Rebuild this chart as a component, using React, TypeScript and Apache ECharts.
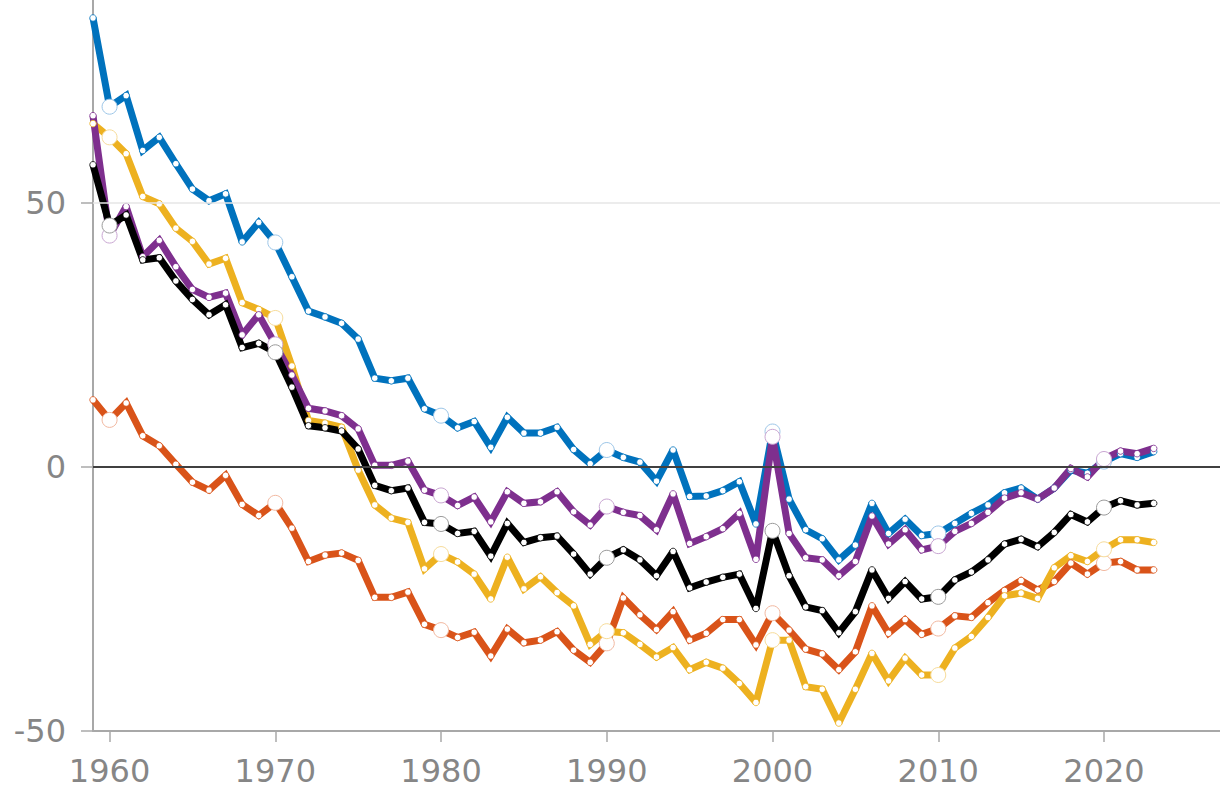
import React, { useEffect, useRef } from "react";
import * as echarts from "echarts";

const years = [
  1959, 1960, 1961, 1962, 1963, 1964, 1965, 1966, 1967, 1968, 1969,
  1970, 1971, 1972, 1973, 1974, 1975, 1976, 1977, 1978, 1979,
  1980, 1981, 1982, 1983, 1984, 1985, 1986, 1987, 1988, 1989,
  1990, 1991, 1992, 1993, 1994, 1995, 1996, 1997, 1998, 1999,
  2000, 2001, 2002, 2003, 2004, 2005, 2006, 2007, 2008, 2009,
  2010, 2011, 2012, 2013, 2014, 2015, 2016, 2017, 2018, 2019,
  2020, 2021, 2022, 2023,
];

const blueValues = [
  85.0, 68.2, 70.3, 59.9, 62.4, 57.4, 52.6, 50.4, 51.7, 42.6, 46.3,
  42.5, 36.0, 29.5, 28.4, 27.2, 24.2, 16.8, 16.3, 16.8, 11.0,
  9.7, 7.4, 8.6, 3.7, 9.4, 6.4, 6.4, 7.5, 3.3, 0.6,
  3.2, 1.8, 0.9, -2.7, 3.2, -5.6, -5.5, -4.5, -2.8, -10.8,
  6.7, -6.1, -11.9, -13.6, -17.6, -14.8, -6.9, -12.6, -9.9, -13.0,
  -12.6, -10.7, -8.8, -7.2, -4.9, -4.0, -6.1, -4.0, -0.6, -1.2,
  1.0, 2.5, 1.8, 2.9,
];

const purpleValues = [
  66.5, 43.8, 49.3, 39.8, 42.9, 37.9, 33.6, 32.1, 32.9, 25.0, 28.8,
  23.2, 17.4, 11.1, 10.6, 9.7, 7.2, 0.3, 0.3, 1.1, -4.4,
  -5.4, -7.3, -5.7, -10.4, -4.7, -6.9, -6.6, -4.7, -8.5, -11.0,
  -7.5, -8.6, -9.2, -11.9, -5.1, -14.5, -13.2, -11.7, -8.8, -17.5,
  5.7, -12.6, -17.2, -17.6, -20.6, -17.9, -9.3, -14.6, -11.9, -15.7,
  -15.0, -12.2, -10.7, -8.6, -5.9, -4.9, -6.1, -4.0, -0.3, -1.9,
  1.5, 3.0, 2.5, 3.5,
];

const blackValues = [
  57.2, 45.7, 47.7, 39.2, 39.6, 35.2, 31.7, 28.8, 30.7, 22.6, 23.4,
  21.7, 15.1, 7.8, 7.4, 6.8, 3.4, -3.5, -4.5, -4.0, -10.5,
  -10.8, -12.6, -12.2, -16.9, -10.7, -14.3, -13.4, -13.1, -16.5, -20.3,
  -17.2, -15.7, -17.6, -20.6, -16.0, -22.9, -21.8, -20.9, -20.3, -26.8,
  -12.1, -20.6, -26.5, -27.2, -31.4, -27.4, -19.5, -24.9, -21.7, -25.0,
  -24.6, -21.4, -19.9, -17.6, -14.6, -13.7, -15.1, -12.4, -9.0, -10.4,
  -7.7, -6.4, -7.2, -6.9,
];

const yellowValues = [
  65.0, 62.4, 59.3, 51.2, 49.8, 45.2, 42.7, 38.4, 39.5, 31.1, 29.8,
  28.2, 19.1, 8.8, 8.3, 7.5, -0.6, -7.2, -9.7, -10.5, -19.3,
  -16.5, -18.0, -20.3, -25.0, -17.1, -23.1, -20.8, -23.8, -26.3, -33.6,
  -31.1, -31.4, -33.6, -36.0, -34.2, -38.4, -37.0, -38.1, -41.0, -44.6,
  -32.8, -32.8, -41.6, -42.1, -48.5, -42.1, -35.3, -40.5, -36.2, -39.4,
  -39.4, -34.3, -32.1, -28.5, -24.4, -23.9, -24.9, -19.1, -16.8, -17.9,
  -15.6, -13.8, -13.8, -14.3,
];

const redValues = [
  12.7, 8.9, 12.1, 5.9, 4.0, 0.5, -2.9, -4.4, -1.6, -7.1, -9.2,
  -6.8, -11.6, -17.9, -16.7, -16.3, -17.7, -24.7, -24.7, -23.7, -29.8,
  -30.9, -32.3, -31.3, -35.8, -30.7, -33.3, -32.8, -31.2, -34.7, -37.0,
  -33.4, -24.8, -28.0, -30.8, -27.4, -32.8, -31.5, -28.9, -28.9, -33.7,
  -27.7, -30.9, -34.5, -35.4, -38.4, -35.0, -26.3, -31.5, -28.9, -31.7,
  -30.6, -28.2, -28.5, -25.7, -23.4, -21.5, -23.3, -21.7, -18.2, -20.3,
  -18.2, -17.9, -19.5, -19.5,
];

const referenceLines = [0, 50];

const FONT = "'DejaVu Sans', 'Liberation Sans', sans-serif";
const LABEL_COLOR = "#868686";
const AXIS_COLOR = "#a8a8a8";

function makeSeries(
  name: string,
  values: number[],
  color: string,
  ringColor: string,
  extra: any = {}
) {
  return {
    name,
    type: "line",
    clip: false,
    symbol: "circle",
    showSymbol: true,
    lineStyle: { color, width: 7, join: "miter", miterLimit: 2 },
    itemStyle: { color: "#ffffff", borderColor: color, borderWidth: 0.8 },
    emphasis: { disabled: true },
    data: years.map((y, i) => {
      const big = y % 10 === 0;
      return {
        value: [y, values[i]],
        symbolSize: big ? 15 : 6.5,
        itemStyle: {
          color: "#ffffff",
          borderColor: big ? ringColor : color,
          borderWidth: big ? 1 : 0.8,
        },
      };
    }),
    ...extra,
  };
}

export default function App() {
  const ref = useRef<HTMLDivElement>(null);

  useEffect(() => {
    if (!ref.current) return;
    const chart = echarts.init(ref.current, null, { renderer: "svg" });
    chart.setOption({
      animation: false,
      backgroundColor: "#ffffff",
      grid: {
        left: 93,
        right: 0,
        top: 0,
        bottom: 70,
        containLabel: false,
        outerBoundsMode: "none",
      },
      xAxis: {
        type: "value",
        min: 1959,
        max: 2027,
        minInterval: 10,
        maxInterval: 10,
        splitNumber: 6,
        axisLine: {
          show: true,
          onZero: false,
          lineStyle: { color: AXIS_COLOR, width: 2 },
        },
        axisTick: {
          show: true,
          length: 11,
          lineStyle: { color: AXIS_COLOR, width: 1.5 },
        },
        splitLine: { show: false },
        axisLabel: {
          showMinLabel: false,
          showMaxLabel: false,
          margin: 24,
          color: LABEL_COLOR,
          fontFamily: FONT,
          fontSize: 32,
          formatter: (v: number) => String(v),
        },
      },
      yAxis: {
        type: "value",
        min: -50,
        max: 88.4,
        minInterval: 50,
        maxInterval: 50,
        axisLine: {
          show: true,
          onZero: false,
          lineStyle: { color: AXIS_COLOR, width: 2 },
        },
        axisTick: {
          show: true,
          length: 12,
          lineStyle: { color: AXIS_COLOR, width: 1.5 },
        },
        splitLine: { show: false },
        axisLabel: {
          showMaxLabel: false,
          margin: 27,
          color: LABEL_COLOR,
          fontFamily: FONT,
          fontSize: 32,
          formatter: (v: number) => (v % 50 === 0 ? String(v) : ""),
        },
      },
      series: [
        makeSeries("red", redValues, "#d95319", "#f2b8a0", {
          markLine: {
            silent: true,
            symbol: ["none", "none"],
            label: { show: false },
            emphasis: { disabled: true },
            data: referenceLines.map((v) => ({
              yAxis: v,
              lineStyle:
                v === 0
                  ? { color: "#404040", width: 2, type: "solid" }
                  : { color: "#e6e6e6", width: 1.5, type: "solid" },
            })),
          },
        }),
        makeSeries("yellow", yellowValues, "#edb120", "#f7dc9a"),
        makeSeries("blue", blueValues, "#0072bd", "#9cc6e8"),
        makeSeries("purple", purpleValues, "#7e2f8e", "#c9a6d2"),
        makeSeries("black", blackValues, "#000000", "#9a9a9a"),
      ],
    });
    return () => chart.dispose();
  }, []);

  return (
    <div
      ref={ref}
      style={{
        position: "fixed",
        left: 0,
        top: 0,
        width: 1220,
        height: 801,
        background: "#ffffff",
      }}
    />
  );
}
